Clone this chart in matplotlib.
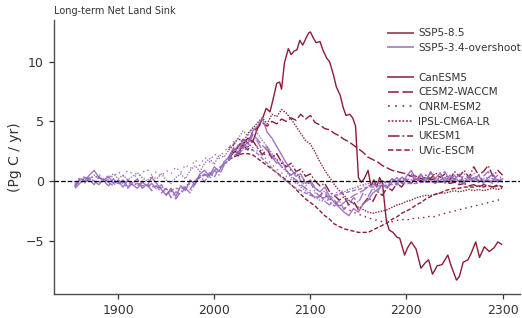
import numpy as np
import matplotlib
matplotlib.use('Agg')
import matplotlib.pyplot as plt
from matplotlib.lines import Line2D

# ---- data (Pg C / yr) ----
models = ['CanESM5', 'CESM2-WACCM', 'CNRM-ESM2', 'IPSL-CM6A-LR', 'UKESM1', 'UVic-ESCM']

hist_years = np.arange(1855, 2016, 5)        # 1855..2015
ssp_years = np.arange(2015, 2301, 5)         # 2015..2300

hist = {
    'CanESM5': [-0.4, 0.2, 0.0, 0.5, 0.9, 0.3, 0.1, 0.4, -0.2, 0.0,
                -0.5, 0.1, -0.3, -0.6, -0.1, -0.4, 0.3, -0.2, -0.7, -1.2,
                -0.6, -1.3, -0.4, -0.8, 0.1, -0.3, 0.6, 0.9, 0.4, 1.2,
                0.8, 1.6, 2.0],
    'CESM2-WACCM': [-0.6, -0.2, 0.3, 0.1, -0.3, 0.4, 0.0, -0.4, 0.2, -0.3,
                    0.1, -0.5, -0.2, 0.2, -0.6, -0.3, -0.8, -0.4, -1.0, -0.6,
                    -1.4, -0.9, -1.1, -0.5, -0.7, 0.0, 0.5, -0.1, 0.7, 0.3,
                    1.1, 1.4, 1.9],
    'CNRM-ESM2': [-0.2, 0.3, 0.0, 0.4, 0.2, 0.6, 0.1, 0.5, 0.3, 0.8,
                  0.4, 0.9, 0.6, 0.3, 0.7, 1.0, 0.5, 0.8, 0.4, 0.9,
                  0.6, 1.2, 0.7, 1.4, 1.0, 1.8, 1.3, 2.0, 1.6, 2.3,
                  1.9, 2.5, 2.8],
    'IPSL-CM6A-LR': [-0.3, 0.0, 0.4, 0.1, 0.5, 0.2, 0.0, 0.3, 0.6, 0.2,
                     0.5, 0.1, 0.4, 0.7, 0.3, 0.0, 0.4, 0.2, 0.6, 0.1,
                     -0.2, 0.3, 0.6, 0.2, 0.9, 1.3, 0.8, 1.5, 1.9, 1.4,
                     2.2, 2.0, 2.6],
    'UKESM1': [-0.5, 0.1, -0.2, 0.3, 0.0, -0.3, 0.2, -0.1, -0.4, 0.1,
               -0.2, -0.6, -0.1, -0.4, 0.0, -0.5, -0.2, -0.7, -0.3, -1.1,
               -0.8, -1.5, -0.9, -0.6, -1.0, -0.2, 0.3, 0.6, 0.2, 0.9,
               0.5, 1.3, 1.7],
    'UVic-ESCM': [-0.3, -0.1, 0.0, 0.1, 0.0, -0.1, 0.0, 0.1, -0.1, -0.2,
                  -0.1, -0.2, -0.3, -0.2, -0.4, -0.3, -0.5, -0.4, -0.6, -0.7,
                  -0.8, -0.6, -0.7, -0.4, -0.2, 0.0, 0.3, 0.5, 0.6, 0.9,
                  1.1, 1.4, 1.8],
}

# CanESM5 SSP5-8.5 traced at irregular years (sharp drops)
can585_years = [2015, 2020, 2025, 2030, 2035, 2040, 2045, 2050, 2054, 2058,
                2061, 2065, 2068, 2070, 2073, 2077, 2080, 2083, 2086, 2089,
                2092, 2095, 2098, 2100, 2103, 2106, 2110, 2113, 2117, 2120,
                2124, 2127, 2131, 2134, 2137, 2141, 2144, 2147, 2150, 2153,
                2156, 2160, 2163, 2166, 2169, 2172, 2175, 2179, 2182, 2186,
                2190, 2193, 2198, 2201, 2205, 2210, 2215, 2220, 2223, 2227,
                2232, 2237, 2243, 2246, 2252, 2255, 2259, 2264, 2267, 2272,
                2276, 2281, 2286, 2291, 2295, 2299]
can585_vals = [2.0, 2.6, 2.3, 3.1, 3.6, 3.3, 4.4, 5.2, 6.1, 5.8,
               6.8, 8.2, 8.3, 7.7, 9.9, 11.1, 10.6, 10.9, 11.0, 11.8,
               11.4, 11.9, 12.4, 12.5, 12.0, 11.6, 11.7, 11.0, 10.3, 10.0,
               8.9, 7.9, 7.2, 6.2, 5.5, 5.6, 5.3, 4.6, 0.3, -0.1,
               0.2, 0.9, -0.4, 0.1, -0.5, 0.3, -0.2, -3.3, -4.1, -4.3,
               -4.7, -4.8, -6.2, -5.6, -5.1, -5.7, -7.3, -6.8, -6.6, -7.8,
               -7.1, -7.0, -6.2, -7.0, -8.3, -8.0, -6.8, -6.6, -6.1, -5.1,
               -6.4, -5.5, -5.9, -5.6, -5.1, -5.3]

# other models, SSP5-8.5, every 5 years 2015..2300
ssp585 = {
    'CESM2-WACCM': [1.9, 2.4, 2.9, 3.5, 3.2, 4.1, 4.5, 4.9, 4.6, 5.0,
                    4.8, 5.2, 5.0, 5.3, 5.1, 5.6, 5.2, 5.5, 4.9, 4.7,
                    4.4, 4.3, 4.0, 3.8, 3.5, 3.3, 3.0, 2.7, 2.4, 2.0,
                    1.8, 1.6, 1.3, 1.1, 0.9, 0.8, 0.7, 0.6, 0.4, 0.5,
                    0.2, 0.3, 0.1, 0.2, -0.1, 0.0, -0.2, -0.1, -0.3, -0.2,
                    -0.4, -0.3, -0.5, -0.3, -0.4, -0.5, -0.3, -0.5],
    'CNRM-ESM2': [2.8, 3.1, 2.7, 3.3, 2.9, 2.6, 2.9, 2.4, 2.1, 2.3,
                  1.8, 1.5, 1.2, 0.9, 0.6, 0.3, 0.0, -0.3, -0.6, -0.9,
                  -1.2, -1.5, -1.7, -2.0, -2.2, -2.4, -2.6, -2.8, -2.9, -3.1,
                  -3.2, -3.3, -3.4, -3.3, -3.4, -3.3, -3.2, -3.3, -3.1, -3.2,
                  -3.0, -3.1, -2.9, -3.0, -2.8, -2.7, -2.6, -2.5, -2.4, -2.3,
                  -2.2, -2.1, -2.0, -1.9, -1.8, -1.7, -1.6, -1.5],
    'IPSL-CM6A-LR': [2.6, 3.0, 3.6, 3.2, 4.0, 4.4, 4.9, 5.3, 4.8, 5.6,
                     5.4, 6.0, 5.7, 5.2, 4.6, 4.0, 3.4, 3.1, 2.4, 1.6,
                     0.9, 0.3, -0.3, -0.8, -1.2, -1.6, -1.9, -2.2, -2.4, -2.6,
                     -2.7, -2.6, -2.5, -2.4, -2.2, -2.0, -1.9, -1.7, -1.6, -1.4,
                     -1.3, -1.2, -1.2, -1.1, -1.0, -1.0, -0.9, -0.8, -0.9, -0.8,
                     -0.7, -0.8, -0.7, -0.8, -0.7, -0.6, -0.7, -0.6],
    'UKESM1': [1.7, 2.5, 2.1, 3.0, 2.6, 3.4, 2.8, 2.2, 2.7, 1.9,
               2.3, 1.6, 1.2, 1.5, 0.8, 1.0, 0.4, 0.6, 0.0, -0.4,
               -0.2, -0.9, -1.2, -1.6, -1.3, -2.0, -1.7, -2.4, -1.9, -1.4,
               -1.7, -0.9, -1.2, -0.5, -0.8, -0.2, -0.5, 0.1, -0.2, 0.4,
               0.0, 0.5, 0.2, 0.7, 0.3, 0.6, 0.1, 0.8, 0.4, 0.9,
               0.3, 1.2, 0.5, 0.8, 1.3, 0.4, 0.9, 0.5],
    'UVic-ESCM': [1.8, 2.0, 2.2, 2.3, 2.3, 2.2, 1.9, 1.6, 1.3, 1.0,
                  0.7, 0.4, 0.1, -0.3, -0.7, -1.1, -1.5, -1.8, -2.1, -2.5,
                  -2.9, -3.2, -3.6, -3.8, -4.0, -4.1, -4.2, -4.3, -4.3, -4.3,
                  -4.1, -3.9, -3.7, -3.5, -3.2, -3.0, -2.7, -2.5, -2.3, -2.0,
                  -1.8, -1.5, -1.3, -1.1, -1.0, -0.8, -0.7, -0.6, -0.6, -0.5,
                  -0.5, -0.5, -0.4, -0.5, -0.4, -0.5, -0.4, -0.5],
}

ssp534 = {
    'CanESM5': [2.0, 2.8, 2.4, 3.5, 3.1, 4.2, 4.6, 5.3, 4.1, 3.6,
                2.9, 2.2, 1.5, 1.0, 0.4, 0.6, -0.2, 0.1, -0.6, -0.9,
                -0.5, -1.3, -1.8, -2.2, -2.6, -2.9, -2.3, -2.6, -1.9, -1.6,
                -1.0, -0.7, -0.3, -0.6, -0.1, 0.3, -0.2, 0.4, 0.9, 0.1,
                0.6, -0.1, 0.8, 0.2, 0.7, -0.2, 0.5, 0.1, 0.6, -0.1,
                0.4, 0.0, 0.5, -0.2, 0.3, 0.6, -0.1, 0.2],
    'CESM2-WACCM': [1.9, 2.5, 3.0, 2.7, 3.4, 3.9, 3.5, 3.0, 2.6, 2.1,
                    1.7, 1.2, 0.9, 0.4, 0.1, -0.3, -0.6, -1.0, -1.4, -1.2,
                    -1.7, -2.0, -1.6, -2.1, -1.8, -1.5, -1.2, -1.0, -0.8, -0.5,
                    -0.3, -0.4, 0.0, -0.2, 0.2, -0.1, 0.3, 0.0, -0.2, 0.2,
                    -0.1, 0.3, 0.0, -0.2, 0.1, 0.3, -0.1, 0.2, 0.0, -0.2,
                    0.1, 0.3, -0.1, 0.2, 0.0, -0.2, 0.1, -0.1],
    'CNRM-ESM2': [2.8, 3.3, 3.0, 3.6, 3.2, 2.8, 2.5, 2.1, 1.8, 1.4,
                  1.0, 0.7, 0.4, 0.1, -0.2, -0.4, -0.6, -0.8, -1.0, -1.1,
                  -1.2, -1.1, -1.0, -0.9, -0.8, -0.7, -0.6, -0.5, -0.4, -0.4,
                  -0.3, -0.2, -0.2, -0.1, -0.1, 0.0, -0.1, 0.0, 0.1, 0.0,
                  0.1, 0.0, 0.1, 0.1, 0.0, 0.1, 0.0, 0.1, 0.1, 0.0,
                  0.1, 0.0, 0.1, 0.0, 0.1, 0.0, 0.1, 0.0],
    'IPSL-CM6A-LR': [2.6, 3.1, 3.6, 4.2, 3.8, 4.5, 4.0, 3.4, 2.9, 2.3,
                     1.8, 1.2, 0.8, 0.3, -0.1, -0.5, -0.8, -1.1, -1.4, -1.6,
                     -1.7, -1.5, -1.3, -1.1, -0.9, -0.7, -0.6, -0.4, -0.3, -0.2,
                     -0.2, -0.1, 0.0, -0.1, 0.1, 0.0, 0.1, 0.2, 0.1, 0.2,
                     0.1, 0.2, 0.3, 0.2, 0.1, 0.2, 0.3, 0.2, 0.1, 0.2,
                     0.3, 0.2, 0.1, 0.2, 0.3, 0.2, 0.1, 0.2],
    'UKESM1': [1.7, 2.6, 2.2, 3.2, 2.8, 3.9, 3.3, 2.6, 2.9, 2.0,
               1.5, 1.8, 0.9, 0.5, 0.8, 0.0, -0.4, -0.1, -0.9, -1.3,
               -0.8, -1.7, -2.1, -1.6, -2.4, -1.9, -1.4, -1.8, -1.0, -1.3,
               -0.6, -0.9, -0.2, -0.5, 0.2, -0.3, 0.4, 0.0, 0.6, -0.2,
               0.5, 0.1, 0.7, -0.1, 0.4, 0.8, 0.0, 0.5, -0.2, 0.6,
               0.2, 0.7, -0.1, 0.4, 0.8, 0.1, 0.5, 0.2],
    'UVic-ESCM': [1.8, 2.1, 2.4, 2.6, 2.7, 2.6, 2.3, 1.9, 1.5, 1.1,
                  0.7, 0.3, 0.0, -0.3, -0.6, -0.8, -1.0, -1.2, -1.3, -1.4,
                  -1.4, -1.3, -1.2, -1.1, -1.0, -0.9, -0.8, -0.7, -0.6, -0.5,
                  -0.5, -0.4, -0.4, -0.3, -0.3, -0.3, -0.2, -0.2, -0.2, -0.2,
                  -0.1, -0.1, -0.1, -0.1, -0.1, 0.0, 0.0, 0.0, 0.0, 0.0,
                  0.0, 0.0, 0.0, 0.0, 0.0, 0.0, 0.0, 0.0],
}

# ---- style ----
RED = '#8c1c36'
PURPLE = '#9467bd'
styles = {
    'CanESM5': '-',
    'CESM2-WACCM': (0, (6, 2)),
    'CNRM-ESM2': (0, (1, 3)),
    'IPSL-CM6A-LR': (0, (1, 1)),
    'UKESM1': '-.',
    'UVic-ESCM': (0, (3, 1.5)),
}

plt.rcParams.update({
    'font.family': 'DejaVu Sans',
    'xtick.direction': 'out',
    'ytick.direction': 'out',
})

fig = plt.figure(figsize=(5.22, 3.18), dpi=100)
ax = fig.add_axes([0.103, 0.076, 0.893, 0.861])

# SSP5-8.5 first, overshoot on top
ax.plot(can585_years, can585_vals, color=RED, ls=styles['CanESM5'], lw=1.0)
for m in models[1:]:
    ax.plot(ssp_years, ssp585[m], color=RED, ls=styles[m], lw=1.0)

for m in models:
    yrs = np.concatenate([hist_years, ssp_years[1:]])
    vals = np.concatenate([hist[m], ssp534[m][1:]])
    ax.plot(yrs, vals, color=PURPLE, ls=styles[m], lw=1.0, alpha=0.9)

ax.axhline(0, color='k', ls='--', lw=0.9, zorder=5)

ax.set_xlim(1833, 2318)
ax.set_ylim(-9.45, 13.5)
ax.set_xticks([1900, 2000, 2100, 2200, 2300])
ax.set_yticks([-5, 0, 5, 10])
ax.tick_params(labelsize=9, colors='0.2', length=3.5, width=0.9)
for s in ['top', 'right']:
    ax.spines[s].set_visible(False)
for s in ['left', 'bottom']:
    ax.spines[s].set_color('0.3')
    ax.spines[s].set_linewidth(1.0)

ax.set_ylabel('(Pg C / yr)', fontsize=10, color='0.2')
ax.yaxis.set_label_coords(-0.068, 0.5)
ax.set_title('Long-term Net Land Sink', loc='left', fontsize=7, color='0.2', pad=4)

handles = [
    Line2D([], [], color=RED, lw=1.4, alpha=0.75, label='SSP5-8.5'),
    Line2D([], [], color=PURPLE, lw=1.4, alpha=0.75, label='SSP5-3.4-overshoot'),
    Line2D([], [], color='none', label=' '),
]
for m in models:
    handles.append(Line2D([], [], color=RED, ls=styles[m], lw=1.3, alpha=0.85, label=m))
fig.legend(handles=handles, loc='upper left', bbox_to_anchor=(0.725, 0.94),
           frameon=False, fontsize=7.5, handlelength=2.4, labelspacing=0.45,
           handletextpad=0.5, labelcolor='0.2')

fig.savefig('out.png', dpi=100)
